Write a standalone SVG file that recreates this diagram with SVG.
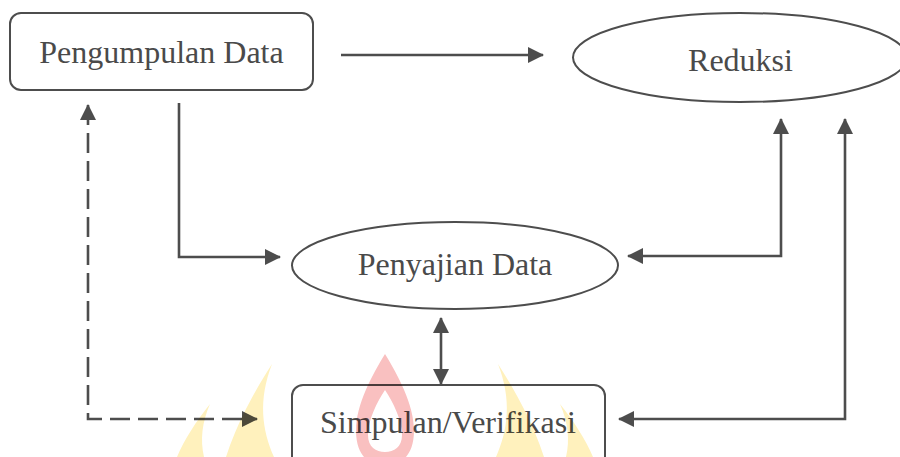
<svg xmlns="http://www.w3.org/2000/svg" width="900" height="457" viewBox="0 0 900 457">
<defs>
<style>
.node{fill:#fff;stroke:#4d4d4d;stroke-width:2}
.lbl{font-family:"Liberation Serif","Times New Roman",serif;font-size:32px;fill:#4a4a4a;text-anchor:middle}
.con{fill:none;stroke:#4d4d4d;stroke-width:2.6}
.dash{stroke-dasharray:20 8}
.wy{fill:#fff1bd}
.wr{fill:#f9c0c0}
</style>
<marker id="ah" markerUnits="userSpaceOnUse" markerWidth="16" markerHeight="16" viewBox="0 0 16 16" refX="15" refY="8" orient="auto-start-reverse">
<path d="M0,0 L16,8 L0,16 Z" fill="#4d4d4d"/>
</marker>
</defs>
<rect width="900" height="457" fill="#fff"/>
<g id="pengumpulan">
<rect class="node" x="10" y="13" width="303" height="77" rx="11"/>
<text class="lbl" x="161.5" y="63">Pengumpulan Data</text>
</g>
<g id="reduksi">
<ellipse class="node" cx="740" cy="57.5" rx="167" ry="44.5"/>
<text class="lbl" x="740.5" y="71">Reduksi</text>
</g>
<g id="penyajian">
<ellipse class="node" cx="455" cy="265.5" rx="163" ry="43.5"/>
<text class="lbl" x="455" y="275">Penyajian Data</text>
</g>
<g id="simpulan">
<rect class="node" x="292" y="385" width="313" height="90" rx="11"/>
<text class="lbl" x="448" y="433">Simpulan/Verifikasi</text>
</g>
<g id="connectors">
<path class="con" d="M341,55 H543" marker-end="url(#ah)"/>
<path class="con" d="M179,103 V257 H280" marker-end="url(#ah)"/>
<path class="con" d="M441,318 V384" marker-start="url(#ah)" marker-end="url(#ah)"/>
<path class="con" d="M628,256 H781 V119" marker-start="url(#ah)" marker-end="url(#ah)"/>
<path class="con" d="M619,419 H845 V119" marker-start="url(#ah)" marker-end="url(#ah)"/>
<path class="con dash" d="M88,105 V419 H257" marker-start="url(#ah)" marker-end="url(#ah)"/>
</g>
<g id="watermark" style="mix-blend-mode:multiply">
<g id="wm-left">
<path class="wy" d="M272,364 C255,390 236,425 226,457 L274,457 C262,430 258,400 272,364 Z"/>
<path class="wy" d="M210,404 C197,420 184,440 177,457 L204,457 C200,440 202,422 210,404 Z"/>
</g>
<g transform="translate(770,0) scale(-1,1)">
<path class="wy" d="M272,364 C255,390 236,425 226,457 L274,457 C262,430 258,400 272,364 Z"/>
<path class="wy" d="M210,404 C197,420 184,440 177,457 L204,457 C200,440 202,422 210,404 Z"/>
</g>
<path class="wr" fill-rule="evenodd" d="M385,354 C372,375 356,405 356,430 C356,445 360,452 364,457 L406,457 C410,452 414,445 414,430 C414,405 398,375 385,354 Z M385,390 C377,402 368,420 368,435 C368,447 376,452 385,452 C394,452 402,447 402,435 C402,420 393,402 385,390 Z"/>
</g>
</svg>
